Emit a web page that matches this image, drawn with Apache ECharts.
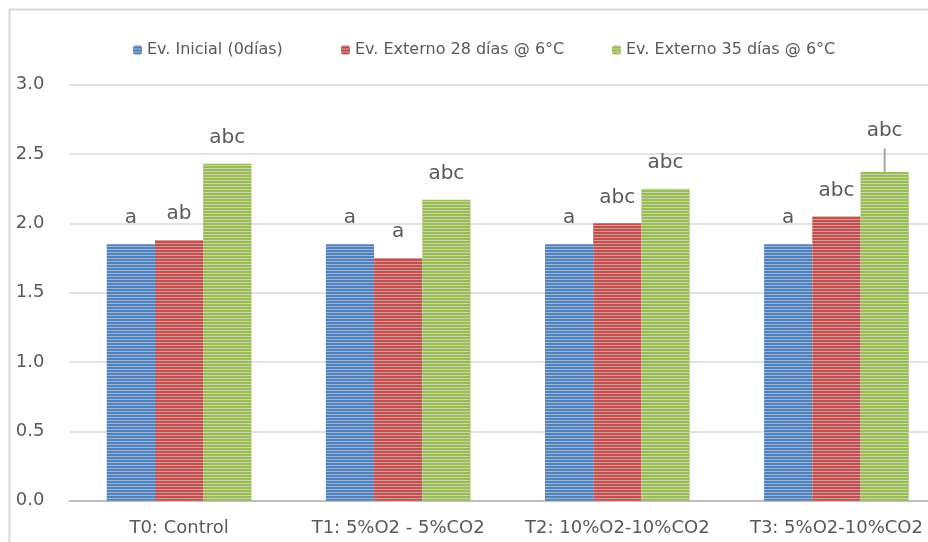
<!DOCTYPE html>
<html>
<head>
<meta charset="utf-8">
<script src="https://cdn.jsdelivr.net/npm/echarts@6/dist/echarts.min.js"></script>
<style>
html,body{margin:0;padding:0;background:#fff;overflow:hidden;width:928px;height:542px;}
#chart{width:946px;height:542px;}
</style>
</head>
<body>
<div id="chart"></div>
<script>
const categories = ['T0: Control', 'T1: 5%O2 - 5%CO2', 'T2: 10%O2-10%CO2', 'T3: 5%O2-10%CO2'];
const seriesNames = ['Ev. Inicial (0días)', 'Ev. Externo 28 días @ 6°C', 'Ev. Externo 35 días @ 6°C'];
const inicial = [1.85, 1.85, 1.85, 1.85];
const externo28 = [1.88, 1.75, 2.00, 2.05];
const externo35 = [2.43, 2.17, 2.25, 2.37];
const errInicial = [0, 0, 0, 0];
const err28 = [0, 0, 0, 0];
const err35 = [0, 0, 0, 0.17];
const lettersInicial = ['a', 'a', 'a', 'a'];
const letters28 = ['ab', 'a', 'abc', 'abc'];
const letters35 = ['abc', 'abc', 'abc', 'abc'];
const yMin = 0, yMax = 3, yInterval = 0.5;

const colors = ['#4f81bd', '#c0504d', '#9bbb59'];
const values = [inicial, externo28, externo35];
const errors = [errInicial, err28, err35];
const letters = [lettersInicial, letters28, letters35];
const CAT_GAP = 0.34;
const FONT = 'DejaVu Sans';
const TXT = '#595959';
const legendLefts = [128, 336, 607];

const decal = {
  symbol: 'rect', symbolSize: 1, dashArrayX: [1, 0], dashArrayY: [1, 2],
  rotation: 0, color: 'rgba(255,255,255,0.42)'
};

const barSeries = values.map((v, s) => ({
  name: seriesNames[s], type: 'bar', data: v,
  barGap: '0%', barCategoryGap: (CAT_GAP * 100) + '%',
  itemStyle: { color: colors[s], decal: decal },
  emphasis: { disabled: true }
}));

const markData = [];
values.forEach((v, s) => v.forEach((val, c) => markData.push([c, val, s, errors[s][c]])));

const markSeries = {
  type: 'custom', name: 'marks', data: markData, encode: { x: 0, y: 1 }, z: 5,
  renderItem: function (params, api) {
    const c = api.value(0), val = api.value(1), s = api.value(2), err = api.value(3);
    const center = api.coord([c, 0]);
    const band = api.size([1, 0])[0];
    const bw = band * (1 - CAT_GAP) / 3;
    const x = center[0] + (s - 1) * bw;
    const top = api.coord([c, val])[1];
    const errTop = api.coord([c, val + err])[1];
    const children = [];
    if (err > 0) {
      children.push({ type: 'line', shape: { x1: x, y1: top, x2: x, y2: errTop },
        style: { stroke: '#a6a6a6', lineWidth: 2 } });
    }
    children.push({ type: 'text', style: {
      text: letters[s][c], x: x, y: err > 0 ? errTop - 8 : top - 16,
      align: 'center', verticalAlign: 'bottom', fontSize: 20, fontFamily: FONT, fill: TXT } });
    return { type: 'group', children: children };
  }
};

const chart = echarts.init(document.getElementById('chart'), null, { renderer: 'canvas' });
chart.setOption({
  animation: false,
  aria: { enabled: true, decal: { show: true } },
  graphic: [{ type: 'rect', z: -10, shape: { x: 9.5, y: 9.5, width: 1000, height: 1000 },
    style: { fill: 'none', stroke: '#d9d9d9', lineWidth: 2 } }],
  legend: seriesNames.map((n, i) => ({
    top: 37, left: legendLefts[i], itemWidth: 9, itemHeight: 9,
    data: [n], selectedMode: false,
    textStyle: { fontFamily: FONT, fontSize: 16, color: TXT }
  })),
  grid: { left: 69.5, right: 0, top: 84.7, bottom: 41.3, containLabel: false },
  xAxis: {
    type: 'category', data: categories,
    axisLine: { lineStyle: { color: '#bfbfbf', width: 2 } },
    axisTick: { show: false },
    axisLabel: { fontFamily: FONT, fontSize: 18, color: TXT, margin: 19, interval: 0 }
  },
  yAxis: {
    type: 'value', min: yMin, max: yMax, interval: yInterval,
    axisLine: { show: false }, axisTick: { show: false },
    splitLine: { lineStyle: { color: '#d9d9d9', width: 1.5 } },
    axisLabel: { fontFamily: FONT, fontSize: 18, color: TXT, margin: 25,
      formatter: v => v.toFixed(1) }
  },
  series: barSeries.concat([markSeries])
});
</script>
</body>
</html>
